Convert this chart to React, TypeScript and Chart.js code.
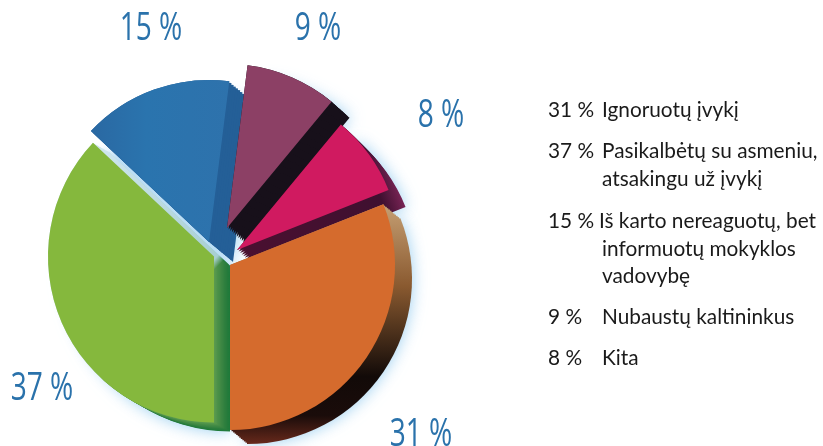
import React, { useEffect, useRef } from "react";
import { Chart, registerables } from "chart.js";

Chart.register(...registerables);

const categories = ["Ignoruotų įvykį", "Pasikalbėtų su asmeniu, atsakingu už įvykį", "Iš karto nereaguotų, bet informuotų mokyklos vadovybę", "Nubaustų kaltininkus", "Kita"];
const values = [31, 37, 15, 9, 8];
const faceColors = ["#d56b2d", "#85b83d", "#2a72ab", "#8c4065", "#d01a60"];

// per-slice layout of the exploded pie (pixels)
const centerX = [230, 214, 209, 227, 237];
const centerY = [265, 256.5, 242, 228, 250];
const radii = [165, 166, 162, 164, 163];
const depthX = [17, 16, 24, 18, 17];
const depthY = [14, 9, 20, 16, 17];
const labelX = [421, 42, 151, 318, 441];
const labelY = [435, 389, 29, 29, 116];
const DEPTH_LAYERS = 12;

const legendRows = [
  { pct: "31 %", lines: ["Ignoruotų įvykį"], tops: [109], textX: 602 },
  { pct: "37 %", lines: ["Pasikalbėtų su asmeniu,", "atsakingu už įvykį"], tops: [150, 178], textX: 602 },
  { pct: "15 %", lines: ["Iš karto nereaguotų, bet", "informuotų mokyklos", "vadovybę"], tops: [220, 248, 275], textX: 599 },
  { pct: "9 %", lines: ["Nubaustų kaltininkus"], tops: [316], textX: 602 },
  { pct: "8 %", lines: ["Kita"], tops: [357], textX: 602 },
];

const explodePlugin = {
  id: "explode",
  afterDatasetsUpdate(chart: any) {
    chart.data.datasets.forEach((_: any, d: number) => {
      const t = d === 0 ? 0 : (d - 1) / (DEPTH_LAYERS - 1);
      chart.getDatasetMeta(d).data.forEach((el: any, i: number) => {
        el.x = centerX[i] + depthX[i] * t;
        el.y = centerY[i] + depthY[i] * t;
        el.innerRadius = 0;
        el.outerRadius = radii[i];
      });
    });
  },
  beforeDatasetDraw(chart: any, args: any) {
    const ctx = chart.ctx;
    if (args.index === DEPTH_LAYERS) {
      ctx.shadowColor = "rgba(120,190,235,0.75)";
      ctx.shadowBlur = 16;
    } else {
      ctx.shadowColor = "transparent";
      ctx.shadowBlur = 0;
    }
  },
  afterDraw(chart: any) {
    const ctx = chart.ctx;
    ctx.save();
    ctx.fillStyle = "#2a72ab";
    ctx.font = "39px 'Open Sans'";
    ctx.textAlign = "center";
    ctx.textBaseline = "middle";
    values.forEach((v, i) => {
      ctx.save();
      ctx.translate(labelX[i], labelY[i]);
      ctx.scale(0.72, 1);
      ctx.fillText(`${v} %`, 0, 0);
      ctx.restore();
    });
    ctx.restore();
  },
};

export default function App() {
  const ref = useRef<HTMLCanvasElement>(null);
  useEffect(() => {
    const canvas = ref.current!;
    const ctx = canvas.getContext("2d")!;

    const orangeDepth = ctx.createLinearGradient(0, 200, 0, 445);
    orangeDepth.addColorStop(0, "#c9a377");
    orangeDepth.addColorStop(0.35, "#8a5a30");
    orangeDepth.addColorStop(0.72, "#120a08");
    orangeDepth.addColorStop(0.88, "#1a0c0a");
    orangeDepth.addColorStop(1, "#6a2a1c");

    const pinkDepth = ctx.createLinearGradient(240, 260, 410, 200);
    pinkDepth.addColorStop(0, "#4a1030");
    pinkDepth.addColorStop(0.85, "#3f1030");
    pinkDepth.addColorStop(1, "#8a2a60");

    const blueFace = ctx.createLinearGradient(90, 0, 232, 0);
    blueFace.addColorStop(0, "#2a68a2");
    blueFace.addColorStop(0.4, "#2a74ae");
    blueFace.addColorStop(1, "#2e72ac");

    const stripShades = ["#66a052", "#5a9a4e", "#52954c", "#4c9148", "#468d46", "#408944", "#3a8542", "#348240", "#2e7f3e", "#297c3c", "#247b3b", "#1f7a3a"];
    const depthSets = stripShades.map((shade) => {
      const greenDepth = ctx.createLinearGradient(100, 150, 230, 280);
      greenDepth.addColorStop(0, "#cfe6ee");
      greenDepth.addColorStop(0.86, "#a8cfd2");
      greenDepth.addColorStop(0.9, shade);
      greenDepth.addColorStop(1, shade);
      return {
        data: values,
        backgroundColor: [orangeDepth, greenDepth, "#245f97", "#17101a", pinkDepth],
        borderWidth: 0,
        clip: false,
      };
    });

    const chart = new Chart(canvas, {
      type: "pie",
      data: {
        labels: categories,
        datasets: [
          {
            data: values,
            backgroundColor: [faceColors[0], faceColors[1], blueFace, faceColors[3], faceColors[4]],
            borderWidth: 0,
            clip: false,
          },
          ...depthSets,
        ],
      } as any,
      options: {
        responsive: false,
        animation: false,
        rotation: 68.4,
        layout: { padding: 0 },
        events: [],
        plugins: { legend: { display: false }, tooltip: { enabled: false } },
      },
      plugins: [explodePlugin],
    } as any);
    return () => chart.destroy();
  }, []);

  const font: React.CSSProperties = {
    position: "absolute",
    fontFamily: "Lato, 'Open Sans', sans-serif",
    fontSize: 20.8,
    lineHeight: "20px",
    color: "#1a1a1a",
    whiteSpace: "nowrap",
  };

  return (
    <div style={{ position: "fixed", left: 0, top: 0, width: 823, height: 446, background: "#fff", overflow: "hidden" }}>
      <canvas ref={ref} width={823} height={446} style={{ display: "block", width: 823, height: 446 }} />
      {legendRows.map((row) => (
        <React.Fragment key={row.pct}>
          <span style={{ ...font, left: 548, top: row.tops[0] - 10 }}>{row.pct}</span>
          {row.lines.map((line, i) => (
            <span key={line} style={{ ...font, left: i === 0 ? row.textX : 602, top: row.tops[i] - 10 }}>{line}</span>
          ))}
        </React.Fragment>
      ))}
    </div>
  );
}
